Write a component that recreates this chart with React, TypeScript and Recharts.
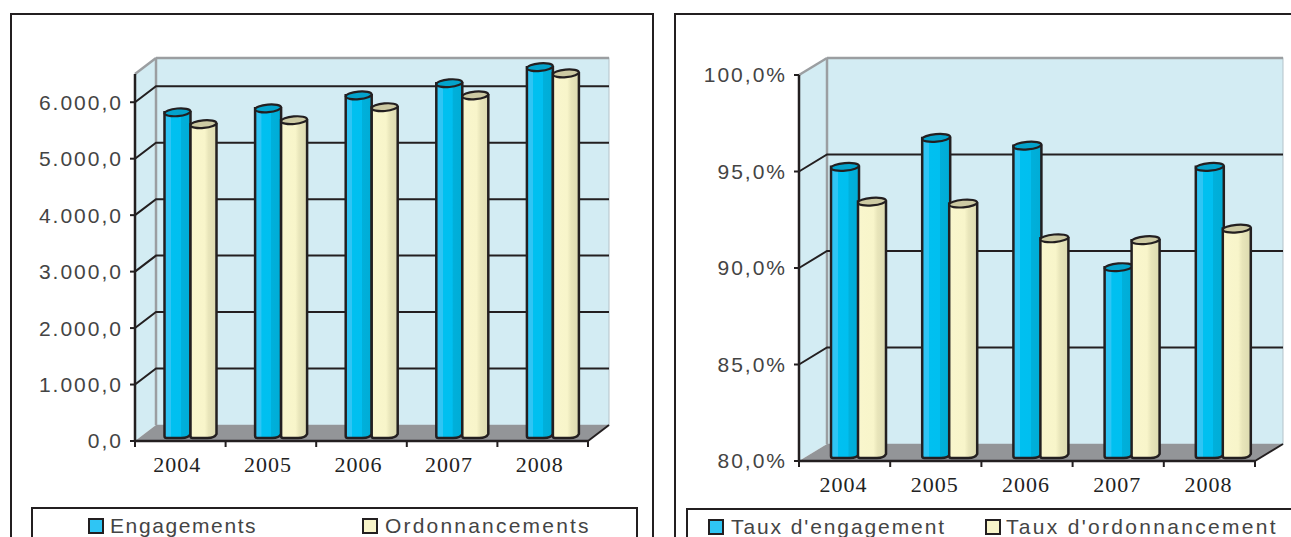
import { BarChart, Bar, XAxis, YAxis, CartesianGrid, Legend } from 'recharts';

const years = ['2004', '2005', '2006', '2007', '2008'];
const engagements = [5680, 5750, 5980, 6195, 6480];
const ordonnancements = [5470, 5540, 5770, 5980, 6370];
const tauxEngagement = [94.8, 96.3, 95.9, 89.6, 94.8];
const tauxOrdonnancement = [93.0, 92.9, 91.1, 91.0, 91.6];
const amountTicks = [0, 1000, 2000, 3000, 4000, 5000, 6000];
const rateTicks = [80, 85, 90, 95, 100];

const amountData = years.map((year, i) => ({
  year,
  first: engagements[i],
  second: ordonnancements[i],
}));
const rateData = years.map((year, i) => ({
  year,
  first: tauxEngagement[i],
  second: tauxOrdonnancement[i],
}));

const INK = '#231f20';

const formatAmount = (v: number) => {
  const thousands = Math.floor(v / 1000);
  return thousands > 0 ? `${thousands}.000,0` : '0,0';
};
const formatRate = (v: number) => `${v.toFixed(1).replace('.', ',')}%`;

// cylinder drawn half way into the depth of the box
function Cylinder({ x, y, width, height, id, top, dx, dy, baseY }: any) {
  const left = x + dx;
  const right = left + width;
  const yt = y + dy;
  const yb = baseY;
  const cx = left + width / 2;
  return (
    <g>
      <path
        d={`M${left},${yt} L${left},${yb - 2} Q${left},${yb} ${left + 2},${yb} L${right - 9},${yb} Q${right - 2},${yb} ${right},${yb - 4} L${right},${yt} Z`}
        fill={`url(#${id})`}
        stroke={INK}
        strokeWidth={2.5}
      />
      <ellipse
        cx={cx}
        cy={yt}
        rx={width / 2}
        ry={3.8}
        transform={`rotate(-5 ${cx} ${yt})`}
        fill={top}
        stroke={INK}
        strokeWidth={2.2}
      />
    </g>
  );
}

function XTick({ x, y, payload, band, isLast, shift }: any) {
  const left = x - band / 2;
  const right = x + band / 2;
  return (
    <g>
      <line x1={left} x2={left} y1={y - 8} y2={y - 2} stroke={INK} strokeWidth={2} />
      {isLast(payload.value) && (
        <line x1={right} x2={right} y1={y - 8} y2={y - 2} stroke={INK} strokeWidth={2} />
      )}
      <text
        x={x + shift}
        y={y + 23}
        textAnchor="middle"
        fontFamily="'Liberation Serif', serif"
        fontSize={22}
        letterSpacing={1}
        fill="#222"
      >
        {payload.value}
      </text>
    </g>
  );
}

function LegendBox({ payload, swatchX, textX, spacing }: any) {
  return (
    <div style={{ position: 'relative', width: '100%', height: '100%' }}>
      {(payload || []).map((item: any, i: number) => (
        <div key={item.value}>
          <div
            style={{
              position: 'absolute',
              left: swatchX[i],
              top: 9,
              width: 12,
              height: 12,
              background: item.color,
              border: `2.5px solid ${INK}`,
            }}
          />
          <div
            style={{
              position: 'absolute',
              left: textX[i],
              top: 4,
              fontFamily: "'Liberation Sans', sans-serif",
              fontSize: 21,
              letterSpacing: spacing[i],
              lineHeight: '26px',
              color: '#444',
              whiteSpace: 'nowrap',
            }}
          >
            {item.value}
          </div>
        </div>
      ))}
    </div>
  );
}

function Walls({ plot, depth, chartWidth }: any) {
  const { left, top, width, height } = plot;
  const bottom = top + height;
  const right = left + width;
  const backBottom = bottom - depth.y;
  const backTop = top - depth.y;
  const backLeft = left + depth.x;
  const backRight = right + depth.x;
  return (
    <svg width={chartWidth} height={537} style={{ position: 'absolute', left: 0, top: 0 }}>
      <polygon points={`${left},${bottom} ${left},${top} ${backLeft},${backTop} ${backLeft},${backBottom}`} fill="#d3ecf3" />
      <rect x={backLeft} y={backTop} width={width} height={height} fill="#d3ecf3" stroke="#b4c3c9" strokeWidth={1} />
      <line x1={left} y1={top} x2={backLeft} y2={backTop} stroke="#9b9ea1" strokeWidth={2.5} />
      <line x1={backLeft} y1={backTop} x2={backRight} y2={backTop} stroke="#9b9ea1" strokeWidth={2.5} />
      <line x1={backLeft} y1={backTop} x2={backLeft} y2={backBottom} stroke="#9b9ea1" strokeWidth={2.5} />
      <polygon points={`${left},${bottom} ${backLeft},${backBottom} ${backRight},${backBottom} ${right},${bottom}`} fill="#939598" />
      <line x1={right} y1={bottom} x2={backRight} y2={backBottom} stroke={INK} strokeWidth={2} />
    </svg>
  );
}

function Panel({
  prefix,
  data,
  names,
  domain,
  ticks,
  gridValues,
  format,
  chartLeft,
  chartWidth,
  plot,
  depth,
  barSize,
  barGap,
  baseY,
  bottomMargin,
  legendBox,
  swatchX,
  textX,
  spacing,
  labelShift,
}: any) {
  const { left, top, width } = plot;
  const right = left + width;
  const band = width / data.length;
  const lastYear = data[data.length - 1].year;

  return (
    <div style={{ position: 'absolute', left: chartLeft, top: 0 }}>
      <Walls plot={plot} depth={depth} chartWidth={chartWidth} />
      <BarChart
        width={chartWidth}
        height={537}
        data={data}
        barSize={barSize}
        barGap={barGap}
        margin={{ top, left: left - 100, right: chartWidth - right, bottom: bottomMargin }}
      >
        <defs>
          <linearGradient id={`${prefix}-blue`} x1="0" x2="1" y1="0" y2="0">
            <stop offset="0" stopColor="#2fc5f4" />
            <stop offset="0.24" stopColor="#2fc5f4" />
            <stop offset="0.25" stopColor="#00c0f0" />
            <stop offset="0.62" stopColor="#00bff0" />
            <stop offset="0.63" stopColor="#00b0db" />
            <stop offset="1" stopColor="#00acd6" />
          </linearGradient>
          <linearGradient id={`${prefix}-cream`} x1="0" x2="1" y1="0" y2="0">
            <stop offset="0" stopColor="#f9f6cd" />
            <stop offset="0.55" stopColor="#f8f5ca" />
            <stop offset="0.7" stopColor="#e8e5ba" />
            <stop offset="1" stopColor="#dcdab0" />
          </linearGradient>
        </defs>
        <CartesianGrid
          vertical={false}
          horizontalValues={gridValues}
          horizontal={(p: any) => (
            <polyline
              key={p.key}
              points={`${p.x1},${p.y1} ${p.x1 + depth.x},${p.y1 - depth.y} ${p.x2 + depth.x},${p.y1 - depth.y}`}
              fill="none"
              stroke={INK}
              strokeWidth={2}
            />
          )}
        />
        <XAxis
          dataKey="year"
          height={30}
          axisLine={{ stroke: INK, strokeWidth: 2.5 }}
          tickLine={false}
          interval={0}
          tick={
            <XTick
              band={band}
              shift={labelShift}
              isLast={(v: string) => v === lastYear}
            />
          }
        />
        <YAxis
          type="number"
          width={100}
          domain={domain}
          ticks={ticks}
          interval={0}
          tickFormatter={format}
          axisLine={{ stroke: INK, strokeWidth: 2.5 }}
          tickLine={{ stroke: INK, strokeWidth: 2 }}
          tickSize={5}
          tickMargin={7}
          tick={{
            fontFamily: "'Liberation Sans', sans-serif",
            fontSize: 21,
            letterSpacing: 2,
            fill: '#444',
          }}
        />
        <Legend
          wrapperStyle={{
            position: 'absolute',
            left: legendBox.left,
            top: legendBox.top,
            width: legendBox.width,
            height: 40,
            bottom: 'auto',
            background: '#fff',
            border: `2px solid ${INK}`,
            boxSizing: 'border-box',
          }}
          content={(props: any) => (
            <LegendBox {...props} swatchX={swatchX} textX={textX} spacing={spacing} />
          )}
        />
        <Bar
          dataKey="first"
          name={names[0]}
          fill="#2fc5f4"
          isAnimationActive={false}
          shape={(p: any) => (
            <Cylinder {...p} id={`${prefix}-blue`} top="#03a3cc" dx={depth.x / 2} dy={-depth.y / 2} baseY={baseY} />
          )}
        />
        <Bar
          dataKey="second"
          name={names[1]}
          fill="#f8f4c9"
          isAnimationActive={false}
          shape={(p: any) => (
            <Cylinder {...p} id={`${prefix}-cream`} top="#cdcaa3" dx={depth.x / 2} dy={-depth.y / 2} baseY={baseY} />
          )}
        />
      </BarChart>
    </div>
  );
}

export default function App() {
  return (
    <div
      style={{
        position: 'absolute',
        left: 0,
        top: 0,
        width: 1291,
        height: 537,
        overflow: 'hidden',
        background: '#fff',
      }}
    >
      <div style={{ position: 'absolute', left: 10, top: 13, width: 640, height: 600, border: `2px solid ${INK}` }} />
      <div style={{ position: 'absolute', left: 674, top: 13, width: 700, height: 600, border: `2px solid ${INK}` }} />
      <Panel
        prefix="amount"
        data={amountData}
        names={['Engagements', 'Ordonnancements']}
        domain={[0, 6500]}
        ticks={amountTicks}
        gridValues={amountTicks.slice(1)}
        format={formatAmount}
        chartLeft={0}
        chartWidth={660}
        plot={{ left: 135, top: 74, width: 453, height: 367 }}
        depth={{ x: 21, y: 16 }}
        barSize={26}
        barGap={0}
        baseY={438}
        bottomMargin={26}
        legendBox={{ left: 31, top: 507, width: 607 }}
        swatchX={[55, 329]}
        textX={[77, 352]}
        spacing={[1.6, 2.2]}
        labelShift={-3}
      />
      <Panel
        prefix="rate"
        data={rateData}
        names={["Taux d'engagement", "Taux d'ordonnancement"]}
        domain={[80, 100]}
        ticks={rateTicks}
        gridValues={rateTicks.slice(1, -1)}
        format={formatRate}
        chartLeft={660}
        chartWidth={631}
        plot={{ left: 139, top: 75, width: 456, height: 386 }}
        depth={{ x: 28, y: 17 }}
        barSize={28}
        barGap={-1}
        baseY={458}
        bottomMargin={6}
        legendBox={{ left: 26, top: 508, width: 640 }}
        swatchX={[20, 297]}
        textX={[43, 318]}
        spacing={[1.9, 2.3]}
        labelShift={-1}
      />
    </div>
  );
}
